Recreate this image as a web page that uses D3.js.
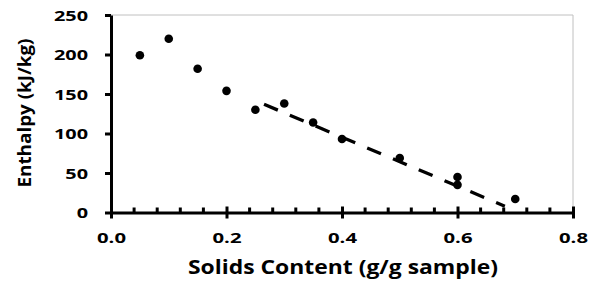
<!DOCTYPE html>
<html>
<head>
<meta charset="utf-8">
<script src="https://cdn.jsdelivr.net/npm/d3@7"></script>
<style>
  body { margin: 0; background: #fff; }
  svg text { font-family: "Open Sans", sans-serif; font-weight: 700; fill: #000; }
</style>
</head>
<body>
<svg id="chart" width="596" height="284"></svg>
<script>
// measured points
let solids = [0.05, 0.1, 0.15, 0.2, 0.25, 0.3, 0.35, 0.4, 0.5, 0.6, 0.6, 0.7];
let enthalpy = [199, 220, 182, 154, 130, 138, 114, 93, 69, 45, 35, 17];

// linear trendline (end points)
let trendX = [0.265, 0.682];
let trendY = [137, 8];

let xTicks = [0, 0.2, 0.4, 0.6, 0.8];
let yTicks = [0, 50, 100, 150, 200, 250];
let xMinor = d3.range(0.04, 0.8, 0.04).filter(v => Math.abs(v / 0.2 - Math.round(v / 0.2)) > 0.01);

let svg = d3.select("#chart");

let x = d3.scaleLinear().domain([0, 0.8]).range([111, 573]);
let y = d3.scaleLinear().domain([0, 250]).range([212.5, 15]);

// stretch text horizontally, the source font is wide
function widen(sel, k) {
    sel.each(function () {
        let len = this.getComputedTextLength();
        d3.select(this).attr("textLength", len * k).attr("lengthAdjust", "spacingAndGlyphs");
    });
}

// plot area border (top + right only, light grey)
svg.append("path")
    .attr("d", d3.line()([[x(0), y(250)], [x(0.8), y(250)], [x(0.8), y(0)]]))
    .attr("fill", "none")
    .attr("stroke", "#c0c0c0")
    .attr("stroke-width", 1);

// y axis
let gy = svg.append("g")
    .attr("transform", "translate(" + x(0) + ",0)")
    .call(d3.axisLeft(y).tickValues(yTicks).tickSize(6).tickSizeOuter(0));
gy.select(".domain").attr("stroke", "#000").attr("stroke-width", 3);
gy.selectAll(".tick line").attr("stroke", "#000").attr("stroke-width", 3);
gy.selectAll(".tick text")
    .attr("x", -23)
    .attr("dy", "0.36em")
    .style("font-size", "14px")
    .call(widen, 1.42);

// x axis
let gx = svg.append("g")
    .attr("transform", "translate(0," + y(0) + ")")
    .call(d3.axisBottom(x).tickValues(xTicks).tickSize(6).tickSizeOuter(0).tickFormat(d3.format(".1f")));
gx.select(".domain").attr("stroke", "#000").attr("stroke-width", 3);
gx.selectAll(".tick line").attr("stroke", "#000").attr("stroke-width", 3).attr("y1", -6);
gx.selectAll(".tick text")
    .attr("y", 30.5)
    .attr("dy", 0)
    .style("font-size", "14px")
    .call(widen, 1.45);

// minor ticks on the x axis, inside only
gx.selectAll(".minor")
    .data(xMinor)
    .enter().append("line")
    .attr("class", "minor")
    .attr("x1", d => x(d))
    .attr("x2", d => x(d))
    .attr("y1", -5)
    .attr("y2", 0)
    .attr("stroke", "#000")
    .attr("stroke-width", 3);

// trendline
svg.append("path")
    .attr("d", d3.line().x(i => x(trendX[i])).y(i => y(trendY[i]))(d3.range(trendX.length)))
    .attr("fill", "none")
    .attr("stroke", "#000")
    .attr("stroke-width", 3.3)
    .attr("stroke-dasharray", "15,13");

// points
svg.selectAll(".dot")
    .data(solids)
    .enter().append("circle")
    .attr("class", "dot")
    .attr("cx", d => x(d))
    .attr("cy", (d, i) => y(enthalpy[i]))
    .attr("r", 4.3)
    .attr("fill", "#000");

// axis titles
svg.append("text")
    .attr("x", 343)
    .attr("y", 273.5)
    .attr("text-anchor", "middle")
    .style("font-size", "19px")
    .text("Solids Content (g/g sample)")
    .attr("textLength", 310)
    .attr("lengthAdjust", "spacingAndGlyphs");

svg.append("text")
    .attr("transform", "translate(31,113) rotate(-90)")
    .attr("text-anchor", "middle")
    .style("font-size", "17.5px")
    .text("Enthalpy (kJ/kg)")
    .attr("textLength", 149)
    .attr("lengthAdjust", "spacingAndGlyphs");
</script>
</body>
</html>
